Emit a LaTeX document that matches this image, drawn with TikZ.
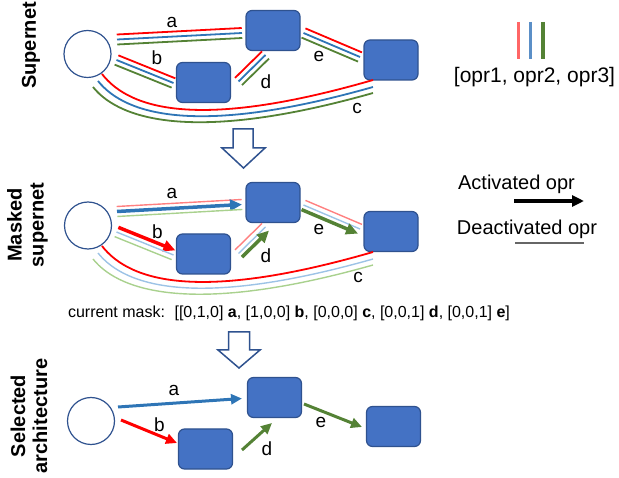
\documentclass[tikz,border=0pt]{standalone}
\usepackage{fontspec}
\setmainfont{Liberation Sans}
\usetikzlibrary{calc,arrows.meta}
\definecolor{oRed}{HTML}{FF0000}
\definecolor{oBlue}{HTML}{2E75B6}
\definecolor{oGreen}{HTML}{548235}
\definecolor{lRed}{HTML}{FF8080}
\definecolor{lBlue}{HTML}{9DC3E6}
\definecolor{lGreen}{HTML}{A9D18E}
\definecolor{gRed}{HTML}{FF6666}
\definecolor{gBlue}{HTML}{5B8FC7}
\definecolor{boxFill}{HTML}{4472C4}
\definecolor{boxLine}{HTML}{2F528F}
\tikzset{
  opbox/.style={draw=boxLine, fill=boxFill, line width=1.2pt, rounded corners=6pt,
    minimum width=54pt, minimum height=40pt, inner sep=0pt},
  innode/.style={draw=boxLine, fill=white, circle, line width=1.2pt,
    minimum size=47pt, inner sep=0pt},
  lbl/.style={font=\fontsize{19}{22}\selectfont, inner sep=0pt},
  sec/.style={font=\bfseries\fontsize{20}{22}\selectfont, rotate=90, align=center, inner sep=0pt},
  full/.style={line width=1.8pt},
  faint/.style={line width=1.4pt},
  act/.style={line width=3.5pt, -{Triangle[length=12pt,width=11pt]}},
  sel/.style={line width=3pt, -{Triangle[length=11pt,width=10pt]}},
  blockarrow/.style={draw=boxLine, fill=white, line width=1.5pt, line join=miter},
  legtxt/.style={inner sep=0pt},
}
\newcommand\tripline[5]{%
  \draw[#3] ($(#1)!5pt!90:(#2)$) -- ($(#2)!5pt!-90:(#1)$);
  \draw[#4] (#1) -- (#2);
  \draw[#5] ($(#1)!5pt!-90:(#2)$) -- ($(#2)!5pt!90:(#1)$);}
\begin{document}
\begin{tikzpicture}[x=1pt,y=-1pt]
\useasboundingbox (0,0) rectangle (619,478);

% ---------- Section 1: Supernet ----------
\node[sec] (s1) at (31,45.5) {Supernet};
\node[innode] (c1) at (87.5,54) {};
\node[opbox] (t1) at (273,30.5) {};
\node[opbox] (l1) at (203.5,82.5) {};
\node[opbox] (r1) at (391,60) {};
\coordinate (a1s) at (117,39.5);   \coordinate (a1e) at (242,33);
\coordinate (b1s) at (116.5,60);   \coordinate (b1e) at (173.5,83);
\coordinate (d1s) at (238.5,81.5); \coordinate (d1e) at (265.5,55);
\coordinate (e1s) at (303.5,33);   \coordinate (e1e) at (360,57);
\tripline{a1s}{a1e}{full,oRed}{full,oBlue}{full,oGreen}
\tripline{b1s}{b1e}{full,oRed}{full,oBlue}{full,oGreen}
\tripline{d1s}{d1e}{full,oRed}{full,oBlue}{full,oGreen}
\tripline{e1s}{e1e}{full,oRed}{full,oBlue}{full,oGreen}
\draw[full,oRed]   (102,74) .. controls (130,110) and (200,130) .. (373,80);
\draw[full,oBlue]  (98,81) .. controls (126,116) and (200,136) .. (373,87);
\draw[full,oGreen] (93,87) .. controls (121,122) and (200,142) .. (373,93);
\node[lbl] (la1) at (172,22) {a};
\node[lbl] (lb1) at (157,58) {b};
\node[lbl] (ld1) at (266,82) {d};
\node[lbl] (le1) at (319,56) {e};
\node[lbl] (lc1) at (357,108) {c};

% legend 1
\coordinate (g1t) at (518.7,22); \coordinate (g1b) at (518.7,59);
\coordinate (g2t) at (530.3,22); \coordinate (g2b) at (530.3,59);
\coordinate (g3t) at (543,22);   \coordinate (g3b) at (543,59);
\draw[gRed,line width=3.5pt] (g1t) -- (g1b);
\draw[gBlue,line width=3.5pt] (g2t) -- (g2b);
\draw[oGreen,line width=3.5pt] (g3t) -- (g3b);
\node[legtxt,font=\fontsize{21}{24}\selectfont] (oprs) at (534.5,77.5) {[opr1, opr2, opr3]};

% block arrow 1
\draw[blockarrow] (233,129) -- (253,129) -- (253,148) -- (265,148) -- (243.5,168)
  -- (222,148) -- (233,148) -- cycle;

% ---------- Section 2: Masked supernet ----------
\node[sec] (s2) at (27.5,225) {Masked\\supernet};
\node[innode] (c2) at (88,225.5) {};
\node[opbox] (t2) at (273,202.5) {};
\node[opbox] (l2) at (203.5,254) {};
\node[opbox] (r2) at (391,231.5) {};
\coordinate (a2s) at (117,211.5);   \coordinate (a2e) at (242,204.5);
\coordinate (b2s) at (116.5,232);   \coordinate (b2e) at (173.5,255);
\coordinate (d2s) at (238.5,253.5); \coordinate (d2e) at (265.5,227);
\coordinate (e2s) at (303.5,205);   \coordinate (e2e) at (360,229);
\tripline{a2s}{a2e}{faint,lRed}{act,oBlue}{faint,lGreen}
\tripline{b2s}{b2e}{act,oRed}{faint,lBlue}{faint,lGreen}
\tripline{d2s}{d2e}{faint,lRed}{faint,lBlue}{act,oGreen}
\tripline{e2s}{e2e}{faint,lRed}{faint,lBlue}{act,oGreen}
\draw[full,oRed]    (102,246) .. controls (130,282) and (200,302) .. (373,252);
\draw[faint,lBlue]  (98,253) .. controls (126,288) and (200,308) .. (373,259);
\draw[faint,lGreen] (93,259) .. controls (121,294) and (200,314) .. (373,265);
\node[lbl] (la2) at (172,193.5) {a};
\node[lbl] (lb2) at (157.5,231.5) {b};
\node[lbl] (ld2) at (266,256) {d};
\node[lbl] (le2) at (319,229) {e};
\node[lbl] (lc2) at (358,277.5) {c};

% legend 2
\node[legtxt,font=\fontsize{20}{24}\selectfont] (actt) at (516.5,184) {Activated opr};
\coordinate (ka) at (514,201); \coordinate (kb) at (584,201);
\draw[black,line width=3.5pt,-{Triangle[length=12pt,width=11pt]}] (ka) -- (kb);
\node[legtxt,font=\fontsize{20}{24}\selectfont] (deat) at (527,229) {Deactivated opr};
\coordinate (kc) at (515,243); \coordinate (kd) at (584,243);
\draw[black!60,line width=1.5pt] (kc) -- (kd);

% mask text
\node[legtxt,font=\fontsize{16}{19}\selectfont] (mask) at (289,313)
  {current mask:\hspace{0.6em}[[0,1,0] \textbf{a}, [1,0,0] \textbf{b}, [0,0,0] \textbf{c}, [0,0,1] \textbf{d}, [0,0,1] \textbf{e}]};

% block arrow 2
\draw[blockarrow] (228.5,332) -- (249.5,332) -- (249.5,350) -- (260,350) -- (239,368)
  -- (218,350) -- (228.5,350) -- cycle;

% ---------- Section 3: Selected architecture ----------
\node[sec] (s3) at (29,416) {Selected\\architecture};
\node[innode] (c3) at (91,421) {};
\node[opbox] (t3) at (274.5,397.5) {};
\node[opbox] (l3) at (205.5,449) {};
\node[opbox] (r3) at (393.5,426.5) {};
\coordinate (a3s) at (118,407); \coordinate (a3e) at (242,398.5);
\coordinate (b3s) at (121,420); \coordinate (b3e) at (177,443);
\coordinate (d3s) at (242,450); \coordinate (d3e) at (272,423);
\coordinate (e3s) at (304,404); \coordinate (e3e) at (362,427);
\draw[sel,oBlue]  (a3s) -- (a3e);
\draw[sel,oRed]   (b3s) -- (b3e);
\draw[sel,oGreen] (d3s) -- (d3e);
\draw[sel,oGreen] (e3s) -- (e3e);
\node[lbl] (la3) at (174,390) {a};
\node[lbl] (lb3) at (159.5,425) {b};
\node[lbl] (ld3) at (267,449) {d};
\node[lbl] (le3) at (321,422) {e};
\end{tikzpicture}
\end{document}
